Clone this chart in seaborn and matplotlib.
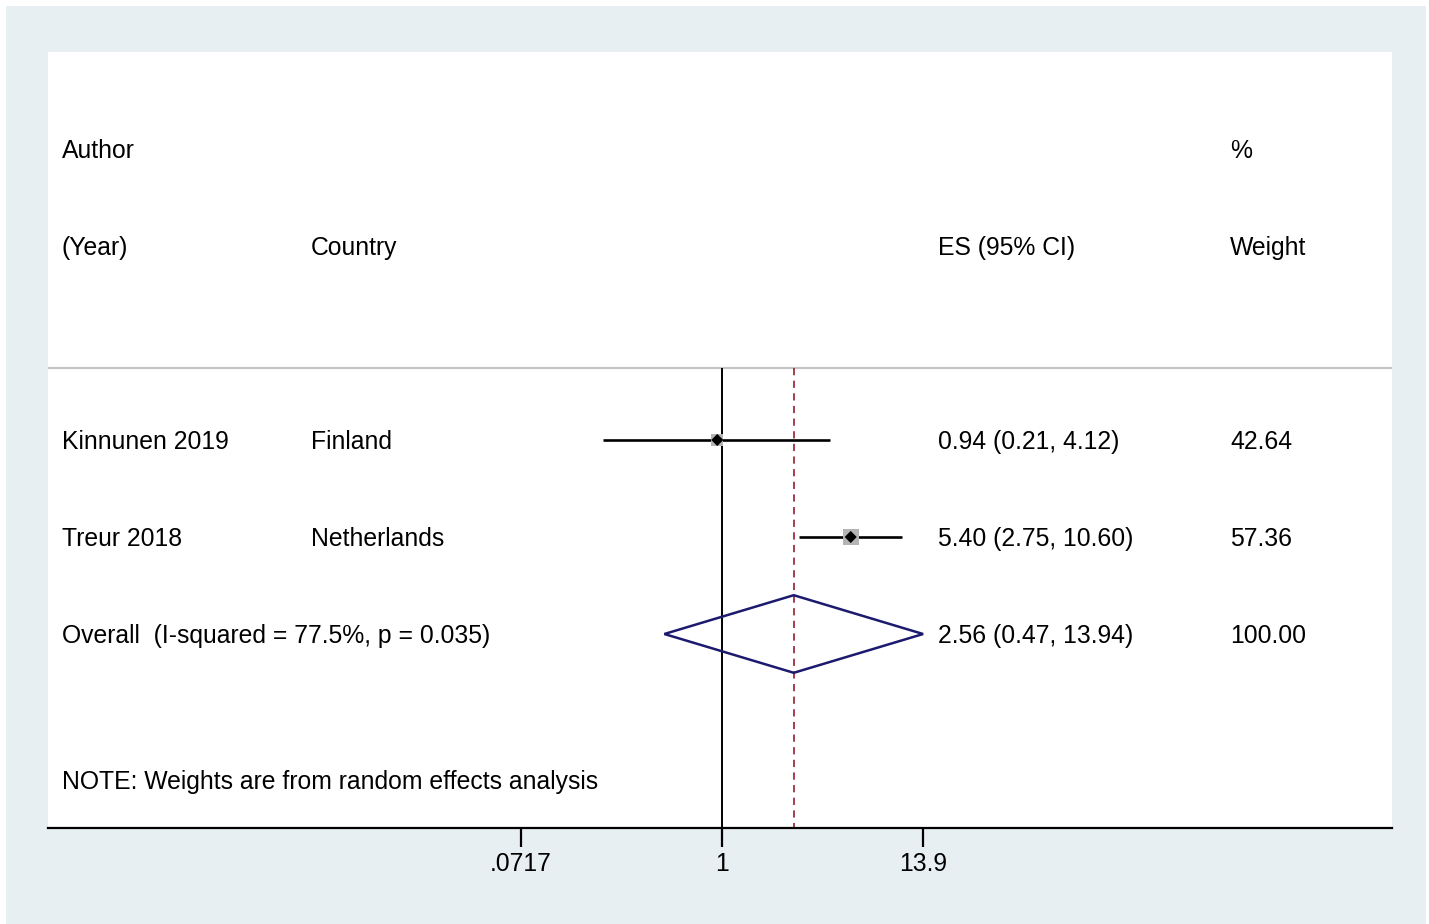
import numpy as np
import pandas as pd
import matplotlib

matplotlib.use("Agg")
import matplotlib.pyplot as plt
import matplotlib.transforms as mtransforms
from matplotlib.patches import Rectangle, Polygon
import seaborn as sns

# study data
authors = ["Kinnunen 2019", "Treur 2018"]
countries = ["Finland", "Netherlands"]
es = [0.94, 5.40]
ci_low = [0.21, 2.75]
ci_high = [4.12, 10.60]
weights = [42.64, 57.36]

# pooled estimate
overall_es = 2.56
overall_low = 0.47
overall_high = 13.94
overall_label = "Overall  (I-squared = 77.5%, p = 0.035)"
note = "NOTE: Weights are from random effects analysis"

tick_values = [0.0717, 1, 13.9]
tick_labels = [".0717", "1", "13.9"]

sns.set_style("white")
plt.rcParams["font.family"] = ["Liberation Sans", "DejaVu Sans"]
plt.rcParams["text.color"] = "black"
plt.rcParams["xtick.color"] = "black"
plt.rcParams["xtick.labelcolor"] = "black"
FS = 17.8
DY = 0.025  # nudge text so it sits centred on the row like stata does

fig = plt.figure(figsize=(14.29, 9.24), dpi=100, facecolor="white")
W, H = 1429, 924
# stata-like outer background
fig.patches.append(Rectangle((6 / W, 0), 1420 / W, 918 / H, transform=fig.transFigure,
                             facecolor="#e8eff2", edgecolor="none", zorder=-10))

ax = fig.add_axes([48 / W, 1 - 828 / H, 1344 / W, 776 / H])
ax.set_zorder(1)
ax.set_facecolor("white")
ax.set_xscale("log")
# 76.32 px per log unit centred on 1 at pixel 722
k = 76.32
ax.set_xlim(np.exp(-(722 - 48) / k), np.exp((1392 - 722) / k))
ax.set_ylim(8, 0)

for s in ["top", "left", "right"]:
    ax.spines[s].set_visible(False)
ax.spines["bottom"].set_linewidth(1.6)
ax.spines["bottom"].set_color("black")
ax.set_yticks([])
ax.set_xticks(tick_values)
ax.set_xticklabels(tick_labels, fontsize=FS)
ax.xaxis.set_minor_locator(matplotlib.ticker.NullLocator())
ax.tick_params(axis="x", direction="out", length=14, width=1.6, pad=3, bottom=True,
               colors="black")

trans = mtransforms.blended_transform_factory(ax.transAxes, ax.transData)
col_x = [0.0104, 0.1957, 0.6622, 0.8795]


def put(col, row, txt):
    ax.text(col_x[col], row + DY, txt, transform=trans, fontsize=FS, va="center",
            color="black")


# header
put(0, 1, "Author")
put(3, 1, "%")
put(0, 2, "(Year)")
put(1, 2, "Country")
put(2, 2, "ES (95% CI)")
put(3, 2, "Weight")
ax.axhline(3.26, color="#c4c4c4", lw=1.6, zorder=1)

rows = np.arange(len(authors)) + 4
df = pd.DataFrame({"author": authors, "country": countries, "es": es,
                   "lo": ci_low, "hi": ci_high, "w": weights, "row": rows})

# reference lines
ax.vlines(1, 3.26, 8, color="black", lw=1.4, zorder=2)
ax.vlines(overall_es, 3.26, 8, color="#9c2f3e", lw=1.3, linestyles=(0, (4, 3)), zorder=2)

ax.hlines(df["row"], df["lo"], df["hi"], color="black", lw=1.9, zorder=3)
sns.scatterplot(data=df, x="es", y="row", size="w", sizes=(80, 130), marker="s",
                color="#b4b4b4", edgecolor="none", legend=False, ax=ax, zorder=4)
sns.scatterplot(data=df, x="es", y="row", marker="D", s=38, color="black",
                edgecolor="none", legend=False, ax=ax, zorder=5)

for _, r in df.iterrows():
    put(0, r["row"], r["author"])
    put(1, r["row"], r["country"])
    put(2, r["row"], f"{r['es']:.2f} ({r['lo']:.2f}, {r['hi']:.2f})")
    put(3, r["row"], f"{r['w']:.2f}")

# overall diamond
orow = len(authors) + 4
diamond = Polygon([(overall_low, orow), (overall_es, orow - 0.4),
                   (overall_high, orow), (overall_es, orow + 0.4)],
                  closed=True, fill=False, edgecolor="#1b1a6e", lw=1.8, zorder=4)
ax.add_patch(diamond)
put(0, orow, overall_label)
put(2, orow, f"{overall_es:.2f} ({overall_low:.2f}, {overall_high:.2f})")
put(3, orow, f"{sum(weights):.2f}")

put(0, 7.5, note)

ax.set_xlabel("")
ax.set_ylabel("")
fig.savefig("out.png", dpi=100, facecolor=fig.get_facecolor())
